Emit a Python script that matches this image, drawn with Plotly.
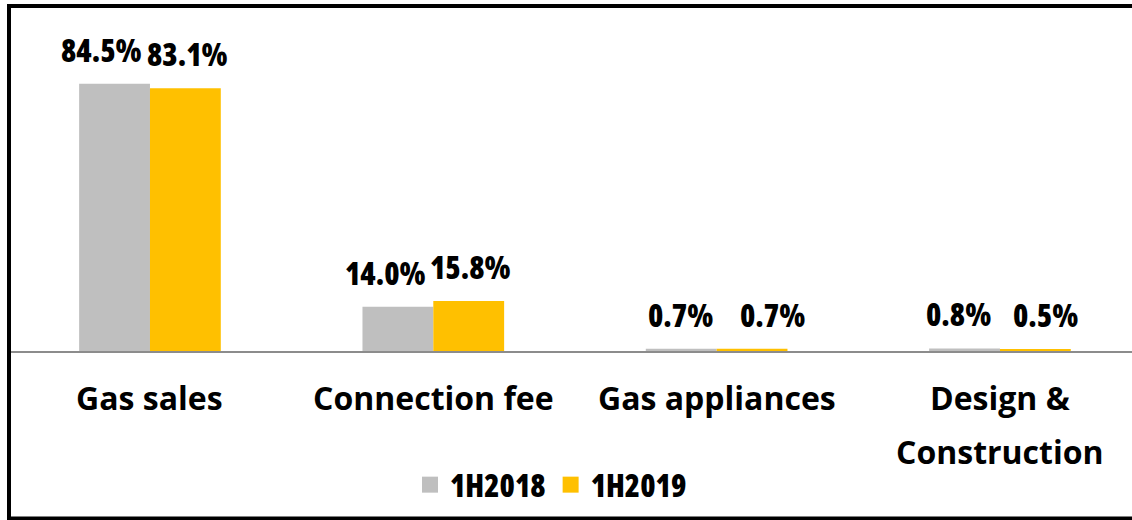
import plotly.graph_objects as go

categories = ["Gas sales", "Connection fee", "Gas appliances", "Design &\nConstruction"]
series_names = ["1H2018", "1H2019"]
values_2018 = [84.5, 14.0, 0.7, 0.8]
values_2019 = [83.1, 15.8, 0.7, 0.5]
labels_2018 = ["84.5%", "14.0%", "0.7%", "0.8%"]
labels_2019 = ["83.1%", "15.8%", "0.7%", "0.5%"]

colors = ["#BFBFBF", "#FFC000"]
label_xshift = [[-13, -12, -1, -6], [2, 2, 20, 10]]

W, H = 1132, 520
ML, MR, MT, MB = 10, 0, 8, 169
PW = W - ML - MR
PH = H - MT - MB

def py(px):
    return (H - MB - px) / PH

def pxx(px):
    return (px - ML) / PW

def narrow(s):
    return '<span style="font-stretch:condensed">%s</span>' % s

num_font = dict(family="Open Sans, sans-serif", size=31, color="black", weight=800)
cat_font = dict(family="Open Sans, Noto Sans, sans-serif", size=32, color="black", weight=700)

fig = go.Figure()
series = [values_2018, values_2019]
labels = [labels_2018, labels_2019]
for j, (name, vals) in enumerate(zip(series_names, series)):
    fig.add_trace(go.Bar(x=list(range(len(categories))), y=vals, name=name,
                         marker=dict(color=colors[j], line=dict(width=0)),
                         showlegend=False, hoverinfo="skip"))
    fig.add_trace(go.Scatter(x=[None], y=[None], mode="markers", name=narrow(name),
                             marker=dict(symbol="square", size=18, color=colors[j]),
                             showlegend=True))

annotations = []
bar_w = 0.25
for j in range(2):
    for i, v in enumerate(series[j]):
        annotations.append(dict(x=i + (j - 0.5) * bar_w, y=v, xref="x", yref="y",
                                text=narrow(labels[j][i]), showarrow=False, yanchor="bottom",
                                xanchor="center", yshift=11, xshift=label_xshift[j][i],
                                font=num_font))

line_centers = [397, 451]
for i, c in enumerate(categories):
    for k, line in enumerate(c.split("\n")):
        annotations.append(dict(x=i, y=py(line_centers[k]), xref="x", yref="paper",
                                text=line, showarrow=False, yanchor="middle",
                                xanchor="center", font=cat_font))

fig.update_layout(
    width=W, height=H,
    margin=dict(l=ML, r=MR, t=MT, b=MB),
    paper_bgcolor="white", plot_bgcolor="white",
    barmode="group", bargap=0.5, bargroupgap=0,
    xaxis=dict(range=[-0.494, 3.466], showticklabels=False, ticks="",
               showgrid=False, zeroline=False, showline=True,
               linecolor="#8C8C8C", linewidth=2),
    yaxis=dict(range=[0, 108.5], visible=False, showgrid=False),
    legend=dict(orientation="h", x=pxx(551), y=py(485), xanchor="center",
                yanchor="middle", font=num_font, bgcolor="rgba(0,0,0,0)",
                itemwidth=30, tracegroupgap=0),
    annotations=annotations,
    shapes=[dict(type="rect", xref="paper", yref="paper",
                 x0=pxx(9), x1=1.02, y0=py(518.5), y1=py(6),
                 line=dict(color="black", width=4), fillcolor="rgba(0,0,0,0)")],
    showlegend=True,
)

fig.write_html("out.html", config={"displayModeBar": False},
               post_script="document.body.style.margin='0';")
